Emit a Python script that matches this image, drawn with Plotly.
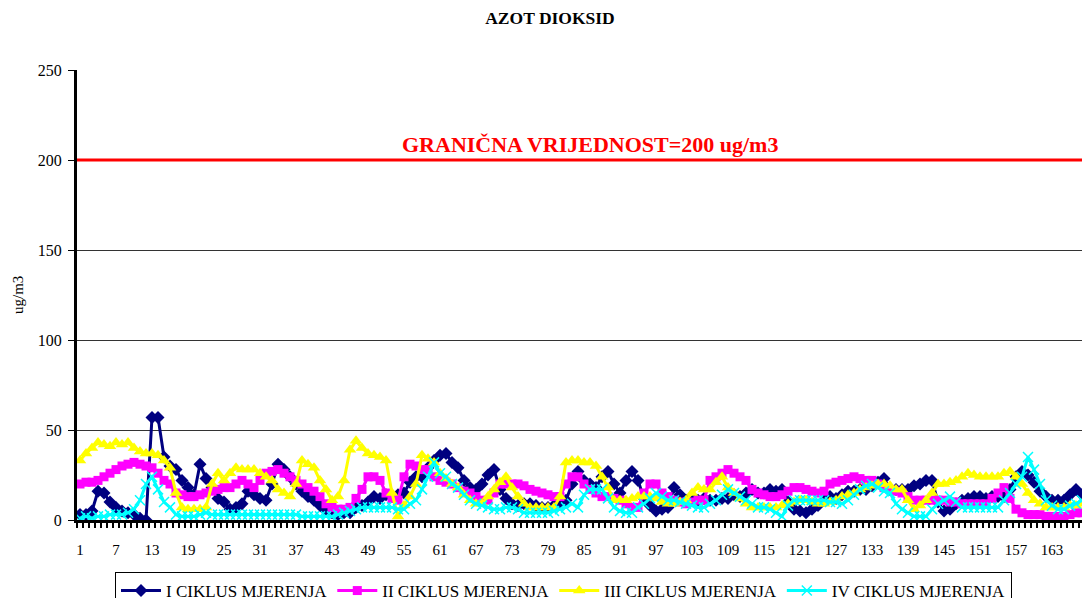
import plotly.graph_objects as go

categories = list(range(1, 169))
tick_labels = [str(v) for v in range(1, 169, 6)]

ciklus_1 = [3,3,5,16,15,10,7,5,4,3,1,0,
            57,57,35,30,28,22,18,14,31,23,18,12,
            10,6,7,9,16,14,12,11,20,31,28,24,
            20,16,13,11,8,5,4,3,4,4,7,8,
            10,13,12,14,13,14,15,21,24,24,29,33,
            36,37,32,29,22,18,17,20,25,28,17,12,
            9,8,9,9,8,7,7,8,10,11,20,27,
            22,20,18,24,27,20,15,22,27,22,12,8,
            5,6,7,18,14,11,12,11,12,11,11,12,
            12,14,13,15,17,15,15,17,16,17,10,6,
            5,4,6,8,11,13,12,14,16,16,17,17,
            19,21,23,17,17,17,17,19,20,22,22,10,
            5,6,9,11,12,13,13,12,13,13,13,17,
            24,27,25,21,16,13,11,11,11,14,17,14]

ciklus_2 = [20,21,21,22,24,26,28,30,31,32,31,30,
            29,26,22,20,15,14,13,13,14,15,16,17,
            18,18,20,22,20,18,22,26,27,28,26,24,
            22,20,18,16,13,9,7,6,6,7,12,17,
            24,24,22,15,12,11,24,31,30,28,28,24,
            22,21,20,18,16,15,13,11,11,15,20,20,
            20,20,19,17,16,15,14,13,13,20,24,24,
            20,17,15,13,13,12,11,9,7,7,15,20,
            20,15,13,11,10,9,10,11,11,22,24,26,
            28,26,24,22,17,15,14,13,13,14,16,18,
            18,17,16,15,16,20,21,22,23,24,23,22,
            22,20,18,17,16,15,13,11,11,11,11,11,
            11,10,10,9,9,9,9,9,12,15,18,12,
            6,4,3,3,3,2,2,2,2,3,4,4]

ciklus_3 = [33,37,40,43,42,41,43,42,43,40,38,37,
            37,36,33,29,15,7,6,6,6,7,20,26,
            22,26,29,28,28,28,26,24,22,17,15,13,
            20,33,31,29,22,17,11,13,22,39,44,40,
            37,36,35,33,15,2,8,13,20,36,34,32,
            26,23,20,18,14,11,9,9,13,17,21,24,
            18,13,9,7,7,7,7,7,13,32,33,33,
            32,32,30,24,18,11,11,11,12,13,13,13,
            12,10,9,9,10,11,15,18,17,17,21,24,
            18,15,12,9,7,7,7,7,7,8,9,10,
            11,11,10,9,9,10,11,13,14,15,17,18,
            19,20,20,19,17,17,11,6,8,11,15,20,
            20,21,22,24,26,25,24,24,24,24,26,27,
            24,20,15,11,9,7,7,7,7,8,8,9]

ciklus_4 = [1,2,1,2,2,3,3,3,4,6,11,20,
            24,17,10,7,3,2,2,2,3,4,3,3,
            3,3,3,3,3,3,3,3,3,3,3,3,
            3,2,2,2,2,2,2,3,4,5,6,7,
            7,7,7,7,7,6,6,9,11,17,24,32,
            26,24,20,18,14,11,9,8,7,6,6,7,
            7,6,4,4,4,4,4,5,6,7,9,7,
            14,17,17,17,12,7,5,4,4,7,9,12,
            15,13,11,11,10,9,8,7,7,9,11,14,
            17,15,13,11,9,7,7,6,4,2,8,11,
            11,11,11,11,11,10,10,9,11,14,17,19,
            20,18,16,15,9,6,4,2,2,2,6,9,
            11,13,10,7,7,7,7,7,7,7,11,15,
            20,24,35,28,20,11,8,6,6,8,9,11]

series_names = ["I CIKLUS MJERENJA", "II CIKLUS MJERENJA",
                "III CIKLUS MJERENJA", "IV CIKLUS MJERENJA"]
limit_value = 200

FONT = "Liberation Serif, Times New Roman, serif"
PW = 1021.0  # plot width in px

fig = go.Figure()
styles = [
    (ciklus_1, "#000080", dict(symbol="diamond", size=10)),
    (ciklus_2, "#FF00FF", dict(symbol="square", size=9)),
    (ciklus_3, "#FFFF00", dict(symbol="triangle-up", size=11)),
    (ciklus_4, "#00FFFF", dict(symbol="x-thin", size=10,
                               line=dict(color="#00FFFF", width=1.5))),
]
for (vals, col, mk), name in zip(styles, series_names):
    fig.add_trace(go.Scatter(
        x=categories, y=vals, name=name, mode="lines+markers",
        line=dict(color=col, width=3),
        marker=dict(color=col, **mk),
    ))

fig.add_shape(type="line", xref="paper", x0=0, x1=1, yref="y",
              y0=limit_value, y1=limit_value,
              line=dict(color="#FF0000", width=3), layer="above")

fig.add_annotation(text="<b>GRANIČNA VRIJEDNOST=200 ug/m3</b>",
                   xref="paper", x=(590 - 77) / PW, yref="y", y=limit_value,
                   xanchor="center", yanchor="bottom", yshift=1,
                   showarrow=False,
                   font=dict(family=FONT, size=22, color="#FF0000"))

fig.add_annotation(text="ug/m3", xref="paper", x=(18 - 77) / PW,
                   xanchor="center", yanchor="middle",
                   yref="paper", y=0.5, textangle=-90, showarrow=False,
                   font=dict(family=FONT, size=15, color="black"))

fig.update_layout(
    width=1090, height=598,
    margin=dict(l=69, r=0, t=62, b=86, autoexpand=False),
    paper_bgcolor="white", plot_bgcolor="white",
    title=dict(text="<b>AZOT DIOKSID</b>", x=(550 - 8) / 1090, xref="container",
               xanchor="center",
               y=1 - (18 - 8) / 598, yref="container", yanchor="middle",
               font=dict(family=FONT, size=17.5, color="black")),
    font=dict(family=FONT, size=15, color="black"),
    showlegend=True,
    legend=dict(orientation="h", x=(115 - 77) / PW, xanchor="left",
                y=-52 / 450, yanchor="top",
                bordercolor="black", borderwidth=1,
                font=dict(family=FONT, size=17, color="black"),
                itemwidth=40, tracegroupgap=0),
    xaxis=dict(range=[0.5, 0.5 + PW / 6.0], tickmode="array",
               tickvals=list(range(1, 169, 6)), ticktext=tick_labels,
               ticks="", showgrid=False, zeroline=False,
               showline=True, linecolor="black", linewidth=3,
               ticklabelstandoff=14,
               minor=dict(tickmode="linear", tick0=0.5, dtick=1,
                          ticks="outside", ticklen=5, tickcolor="black",
                          tickwidth=1.5, showgrid=False),
               tickfont=dict(family=FONT, size=15, color="black")),
    yaxis=dict(range=[0, 250], tickmode="linear", tick0=0, dtick=50,
               ticks="outside", ticklen=6, tickcolor="black", tickwidth=1,
               showgrid=True, gridcolor="#333333", gridwidth=1,
               zeroline=False, showline=True, linecolor="black", linewidth=3,
               ticklabelstandoff=3,
               tickfont=dict(family=FONT, size=16, color="black")),
)

fig.write_html("out.html")
